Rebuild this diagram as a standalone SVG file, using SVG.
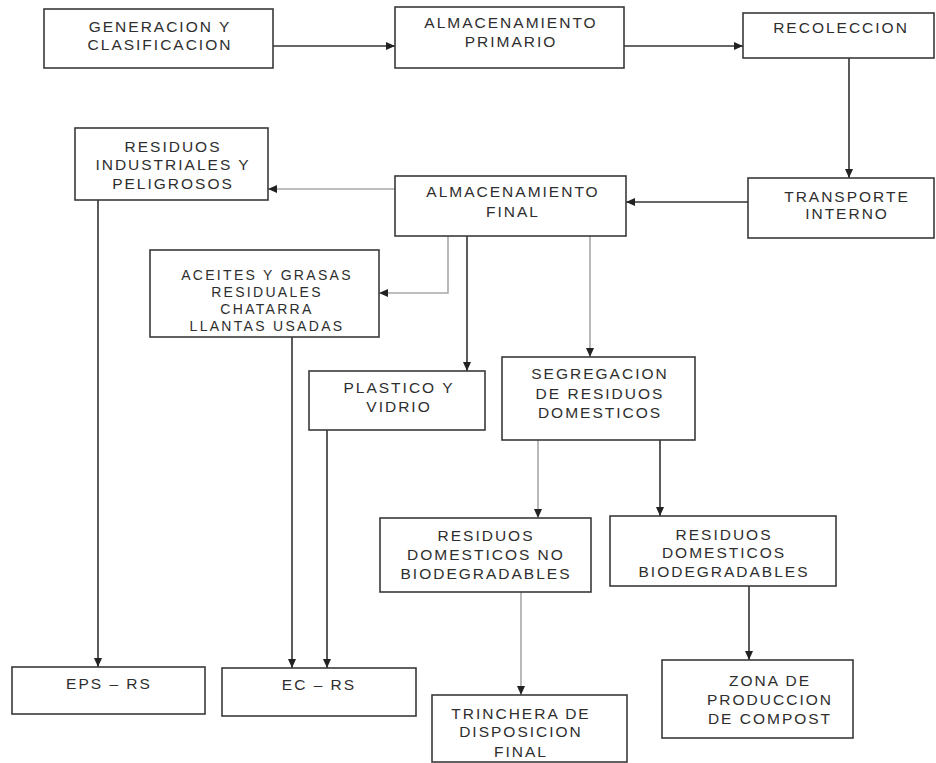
<svg xmlns="http://www.w3.org/2000/svg" width="936" height="763" viewBox="0 0 936 763">
<style>
.box{fill:#fff;stroke:#3a3a3a;stroke-width:1.6}
.t{font-family:"Liberation Sans",Arial,sans-serif;font-size:15.5px;letter-spacing:2px;fill:#2e2e2e;text-anchor:middle}
.s{font-size:14px;letter-spacing:2.3px}
.c{fill:none;stroke:#333;stroke-width:1.6;marker-end:url(#ah)}
.l{stroke:#a8a8a8}
</style>
<defs>
<marker id="ah" markerWidth="10" markerHeight="10" refX="9" refY="5" orient="auto" markerUnits="userSpaceOnUse">
<path d="M0,1 L9,5 L0,9 Z" fill="#222"/>
</marker>
</defs>
<rect width="936" height="763" fill="#fff"/>
<g id="connectors">
<path class="c" d="M273,46 H395"/>
<path class="c" d="M624,46 H743"/>
<path class="c" d="M849,58 V178"/>
<path class="c" d="M748,202 H626"/>
<path class="c l" d="M395,189 H268"/>
<path class="c l" d="M448,236 V293 H379"/>
<path class="c" d="M467,236 V371"/>
<path class="c l" d="M590,236 V357"/>
<path class="c" d="M98,200 V667"/>
<path class="c" d="M292,337 V668"/>
<path class="c" d="M327,430 V668"/>
<path class="c l" d="M538,440 V518"/>
<path class="c" d="M660,440 V516"/>
<path class="c l" d="M521,592 V695"/>
<path class="c" d="M749,586 V660"/>
</g>
<g id="generacion"><rect class="box" x="44" y="9" width="229" height="59"/><text class="t" x="160" y="32">GENERACION Y</text><text class="t" x="160" y="50">CLASIFICACION</text></g>
<g id="almacenamiento-primario"><rect class="box" x="395" y="7" width="229" height="61"/><text class="t" x="511" y="28">ALMACENAMIENTO</text><text class="t" x="511" y="47">PRIMARIO</text></g>
<g id="recoleccion"><rect class="box" x="743" y="13" width="191" height="45"/><text class="t" x="841" y="33">RECOLECCION</text></g>
<g id="transporte"><rect class="box" x="748" y="178" width="186" height="60"/><text class="t" x="847" y="202">TRANSPORTE</text><text class="t" x="847" y="219">INTERNO</text></g>
<g id="almacenamiento-final"><rect class="box" x="395" y="176" width="231" height="60"/><text class="t" x="513" y="197">ALMACENAMIENTO</text><text class="t" x="513" y="217">FINAL</text></g>
<g id="residuos-industriales"><rect class="box" x="75" y="128" width="193" height="72"/><text class="t" x="173" y="152">RESIDUOS</text><text class="t" x="173" y="170">INDUSTRIALES Y</text><text class="t" x="173" y="189">PELIGROSOS</text></g>
<g id="aceites"><rect class="box" x="150" y="250" width="229" height="87"/><text class="t s" x="267" y="280">ACEITES Y GRASAS</text><text class="t s" x="267" y="297">RESIDUALES</text><text class="t s" x="267" y="314">CHATARRA</text><text class="t s" x="267" y="331">LLANTAS USADAS</text></g>
<g id="plastico"><rect class="box" x="309" y="371" width="176" height="59"/><text class="t" x="399" y="393">PLASTICO Y</text><text class="t" x="399" y="412">VIDRIO</text></g>
<g id="segregacion"><rect class="box" x="502" y="357" width="193" height="83"/><text class="t" x="600" y="379">SEGREGACION</text><text class="t" x="600" y="399">DE RESIDUOS</text><text class="t" x="600" y="418">DOMESTICOS</text></g>
<g id="no-biodegradables"><rect class="box" x="380" y="518" width="211" height="74"/><text class="t" x="486" y="541">RESIDUOS</text><text class="t" x="486" y="560">DOMESTICOS NO</text><text class="t" x="486" y="579">BIODEGRADABLES</text></g>
<g id="biodegradables"><rect class="box" x="610" y="516" width="226" height="70"/><text class="t" x="724" y="540">RESIDUOS</text><text class="t" x="724" y="558">DOMESTICOS</text><text class="t" x="724" y="577">BIODEGRADABLES</text></g>
<g id="eps-rs"><rect class="box" x="12" y="667" width="193" height="47"/><text class="t" x="109" y="689">EPS – RS</text></g>
<g id="ec-rs"><rect class="box" x="222" y="668" width="194" height="48"/><text class="t" x="319" y="690">EC – RS</text></g>
<g id="zona-compost"><rect class="box" x="662" y="660" width="191" height="78"/><text class="t" x="770" y="686">ZONA DE</text><text class="t" x="770" y="705">PRODUCCION</text><text class="t" x="770" y="724">DE COMPOST</text></g>
<g id="trinchera"><rect class="box" x="432" y="695" width="195" height="67"/><text class="t" x="521" y="719">TRINCHERA DE</text><text class="t" x="521" y="737">DISPOSICION</text><text class="t" x="521" y="757">FINAL</text></g>
</svg>
